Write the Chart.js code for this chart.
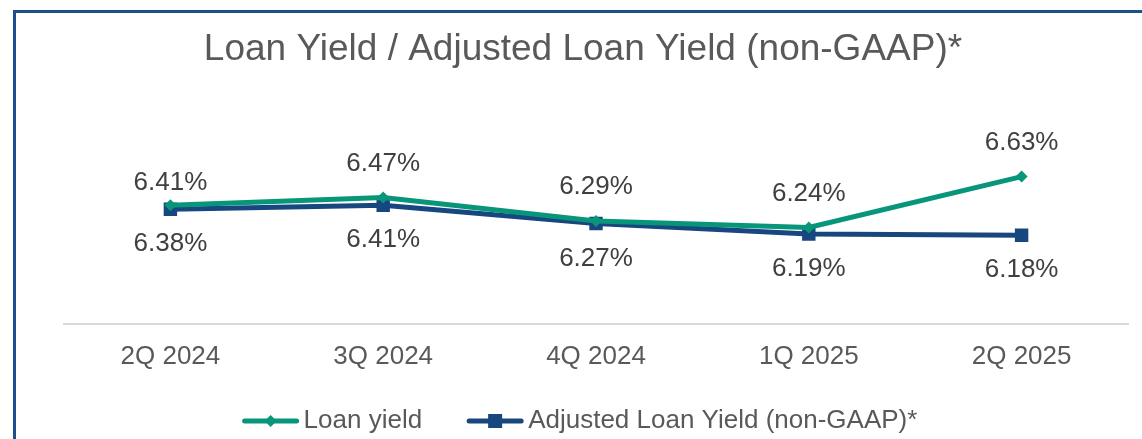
<!DOCTYPE html>
<html>
  <head>
    <meta charset="UTF-8">
    <title>Loan Yield / Adjusted Loan Yield</title>
    <script src="https://cdn.jsdelivr.net/npm/chart.js"></script>
    <style>
      html, body { margin: 0; padding: 0; background: #fff; overflow: hidden; }
      #wrap { position: relative; width: 1142px; height: 439px; }
      #frame { position: absolute; left: 13px; top: 10px; width: 1200px; height: 500px;
               border-left: 3px solid #1D4F8A; border-top: 3px solid #1D4F8A; pointer-events: none; }
    </style>
  </head>
  <body>
    <div id="wrap">
      <canvas id="yieldChart" width="1142" height="439"></canvas>
      <div id="frame"></div>
    </div>
    <script>
      const quarters = ['2Q 2024', '3Q 2024', '4Q 2024', '1Q 2025', '2Q 2025'];
      const loanYield = [6.41, 6.47, 6.29, 6.24, 6.63];
      const adjustedYield = [6.38, 6.41, 6.27, 6.19, 6.18];

      const GREEN = '#08967A';
      const BLUE = '#17477E';
      const FONT = "'Liberation Sans', Arial, sans-serif";

      // value labels: loan yield above the point, adjusted below
      const valueLabels = {
        id: 'valueLabels',
        afterDatasetsDraw(chart) {
          const ctx = chart.ctx;
          ctx.save();
          ctx.font = '26px ' + FONT;
          ctx.fillStyle = '#404040';
          ctx.textAlign = 'center';
          ctx.textBaseline = 'middle';
          chart.data.datasets.forEach((ds, i) => {
            const meta = chart.getDatasetMeta(i);
            meta.data.forEach((pt, j) => {
              let dy = i === 0 ? -34 : 35;
              if (i === 0 && j === 0) dy = -22;
              ctx.fillText(ds.data[j].toFixed(2) + '%', pt.x, pt.y + dy);
            });
          });
          ctx.restore();
        }
      };

      // legend with line + marker like the original
      const lineLegend = {
        id: 'lineLegend',
        afterDraw(chart) {
          const ctx = chart.ctx;
          ctx.save();
          ctx.font = '26px ' + FONT;
          ctx.textBaseline = 'middle';
          const y = 421;
          const lineW = 56, gap = 5, itemGap = 45;
          const items = chart.data.datasets.map(ds => ({
            label: ds.label, color: ds.borderColor, style: ds.pointStyle,
            w: lineW + gap + ctx.measureText(ds.label).width
          }));
          const total = items.reduce((s, it) => s + it.w, 0) + itemGap * (items.length - 1);
          let x = 580 - total / 2;
          items.forEach(it => {
            ctx.strokeStyle = it.color;
            ctx.lineWidth = 5;
            ctx.lineCap = 'round';
            ctx.beginPath();
            ctx.moveTo(x + 2, y);
            ctx.lineTo(x + lineW - 2, y);
            ctx.stroke();
            ctx.fillStyle = it.color;
            const cx = x + lineW / 2;
            if (it.style === 'rectRot') {
              ctx.beginPath();
              ctx.moveTo(cx - 6, y); ctx.lineTo(cx, y - 6);
              ctx.lineTo(cx + 6, y); ctx.lineTo(cx, y + 6);
              ctx.closePath(); ctx.fill();
            } else {
              ctx.fillRect(cx - 7, y - 7, 14, 14);
            }
            ctx.fillStyle = '#595959';
            ctx.fillText(it.label, x + lineW + gap, y);
            x += it.w + itemGap;
          });
          ctx.restore();
        }
      };

      new Chart(document.getElementById('yieldChart'), {
        type: 'line',
        data: {
          labels: quarters,
          datasets: [
            {
              label: 'Loan yield',
              data: loanYield,
              borderColor: GREEN,
              backgroundColor: GREEN,
              borderWidth: 5,
              pointStyle: 'rectRot',
              pointRadius: 6,
              pointBorderWidth: 0,
              tension: 0
            },
            {
              label: 'Adjusted Loan Yield (non-GAAP)*',
              data: adjustedYield,
              borderColor: BLUE,
              backgroundColor: BLUE,
              borderWidth: 5,
              pointStyle: 'rect',
              pointRadius: 9.5,
              pointBorderWidth: 0,
              tension: 0
            }
          ]
        },
        options: {
          responsive: false,
          animation: false,
          layout: { padding: { left: 38, right: 14, top: 0, bottom: 50 } },
          plugins: {
            legend: { display: false },
            tooltip: { enabled: false },
            title: {
              display: true,
              text: 'Loan Yield / Adjusted Loan Yield (non-GAAP)*',
              color: '#595959',
              font: { family: FONT, size: 37, weight: 'normal' },
              padding: { top: 28, bottom: 56 }
            }
          },
          scales: {
            x: {
              offset: true,
              grid: { display: false, drawTicks: false },
              border: { display: true, color: '#D9D9D9', width: 2 },
              ticks: { color: '#595959', font: { family: FONT, size: 26 }, padding: 17 }
            },
            y: {
              min: 5.5,
              max: 7.0,
              grid: { display: false, drawTicks: false },
              border: { display: false },
              ticks: { display: false },
              afterFit(scale) { scale.width = 26; }
            }
          }
        },
        plugins: [valueLabels, lineLegend]
      });
    </script>
  </body>
</html>
